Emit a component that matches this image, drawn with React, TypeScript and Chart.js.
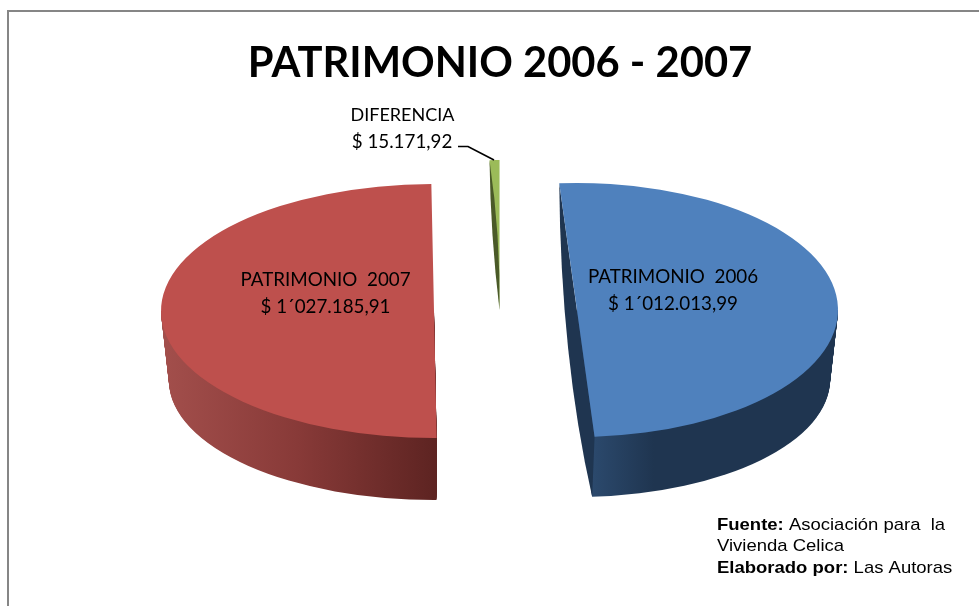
import React, { useEffect, useRef } from "react";
import { Chart, registerables } from "chart.js";

Chart.register(...registerables);

const categories = ["PATRIMONIO 2006", "PATRIMONIO 2007", "DIFERENCIA"];
const seriesValues = [1012013.99, 1027185.91, 15171.92];
const sliceColors = ["#4F81BD", "#BE504D", "#9BBB59"];
const chartTitle = "PATRIMONIO 2006 - 2007";
const sliceLabels = [
  ["PATRIMONIO  2006", "$ 1´012.013,99"],
  ["PATRIMONIO  2007", "$ 1´027.185,91"],
  ["DIFERENCIA", "$ 15.171,92"],
];
const noteLines = [
  [["Fuente: ", true], ["Asociación para  la", false]],
  [["Vivienda Celica", false]],
  [["Elaborado por: ", true], ["Las Autoras", false]],
] as [string, boolean][][];

const DEG = Math.PI / 180;
// Presentation of the fake 3D exploded pie (slice order: blue, red, green)
const rotationDeg = -3.9;
const startShift = [0, 6, 3.91];
const endShift = [2.7, 6, 3.91];
const topFace = [
  { cx: 577, cy: 310, rx: 261, ry: 127 },
  { cx: 434, cy: 311, rx: 273, ry: 127 },
  { cx: 499.5, cy: 310, rx: 216, ry: 150 },
];
const baseFace = [
  { cx: 575, cy: 380, rx: 255, ry: 117 },
  { cx: 434, cy: 381, rx: 265, ry: 119 },
  null,
];
const sideStops = [
  [[0, "#2f4f75"], [0.3, "#1f3550"], [1, "#1f3550"]],
  [[0, "#a34f4c"], [0.5, "#883a38"], [1, "#5e2422"]],
  [],
] as [number, string][][];
const cutColors = ["#1f3550", "#5e2422", "#4a5a28"];
const labelPos = [
  { x: 673, y: 277 },
  { x: 325.5, y: 280 },
];

const pie3dPlugin = {
  id: "pie3d",
  afterDatasetsUpdate(chart: any) {
    chart.getDatasetMeta(0).data.forEach((arc: any, i: number) => {
      arc.startAngle += startShift[i] * DEG;
      arc.endAngle += endShift[i] * DEG;
      arc.circumference = arc.endAngle - arc.startAngle;
    });
  },
  beforeDatasetsDraw(chart: any) {
    const ctx = chart.ctx;
    ctx.save();
    ctx.strokeStyle = "#868686";
    ctx.lineWidth = 2;
    ctx.strokeRect(8, 11, 1200, 1200);
    ctx.restore();

    const arcs = chart.getDatasetMeta(0).data;
    for (const i of [2, 1, 0]) {
      const arc = arcs[i];
      const top = topFace[i];
      const base = baseFace[i];
      const onRim = (f: any, a: number) => ({
        x: f.cx + f.rx * Math.cos(a),
        y: f.cy + f.ry * Math.sin(a),
      });

      if (base) {
        const g = ctx.createLinearGradient(
          i === 0 ? base.cx : top.cx - top.rx,
          0,
          i === 0 ? top.cx + top.rx : base.cx,
          0
        );
        sideStops[i].forEach(([p, c]) => g.addColorStop(p, c));
        ctx.save();
        ctx.fillStyle = g;
        const a0 = i === 0 ? 0 : arc.startAngle;
        const a1 = i === 0 ? arc.endAngle : Math.PI;
        const steps = 70;
        for (let s = steps; s >= 0; s--) {
          const t = s / steps;
          const cx = top.cx + (base.cx - top.cx) * t;
          const cy = top.cy + (base.cy - top.cy) * t;
          const rx = top.rx + (base.rx - top.rx) * t;
          const ry = top.ry + (base.ry - top.ry) * t;
          ctx.beginPath();
          ctx.moveTo(cx, cy);
          ctx.ellipse(cx, cy, rx, ry, 0, a0, a1);
          ctx.closePath();
          ctx.fill();
        }
        ctx.restore();
      }

      if (i === 0 && base) {
        const s = onRim(top, arc.startAngle);
        const e = onRim(top, arc.endAngle);
        const b = onRim(base, arc.endAngle);
        ctx.save();
        ctx.fillStyle = cutColors[0];
        ctx.beginPath();
        ctx.moveTo(s.x, s.y);
        ctx.quadraticCurveTo(s.x + 0.045 * (b.x - s.x), s.y + 0.56 * (b.y - s.y), b.x, b.y);
        ctx.lineTo(e.x, e.y);
        ctx.closePath();
        ctx.fill();
        ctx.restore();
      }

      ctx.save();
      const r = arc.outerRadius;
      ctx.translate(top.cx, top.cy);
      ctx.scale(top.rx / r, top.ry / r);
      ctx.translate(-arc.x, -arc.y);
      arc.draw(ctx, chart.chartArea);
      ctx.restore();

      if (i === 2) {
        const s = onRim(top, arc.startAngle);
        const mx = (s.x + top.cx) / 2;
        const my = (s.y + top.cy) / 2;
        ctx.save();
        ctx.fillStyle = cutColors[2];
        ctx.beginPath();
        ctx.moveTo(s.x, s.y);
        ctx.quadraticCurveTo(mx - 4, my, top.cx, top.cy);
        ctx.quadraticCurveTo(mx + 6, my, s.x, s.y);
        ctx.closePath();
        ctx.fill();
        ctx.restore();
      }
    }
    return false;
  },
  afterDraw(chart: any) {
    const ctx = chart.ctx;
    ctx.save();
    ctx.fillStyle = "#000";
    ctx.textBaseline = "middle";
    ctx.textAlign = "center";
    ctx.font = "18.8px Lato";
    labelPos.forEach((p, i) => {
      ctx.fillText(sliceLabels[i][0], p.x, p.y);
      ctx.fillText(sliceLabels[i][1], p.x, p.y + 27);
    });
    ctx.fillText(sliceLabels[2][1], 402, 142);
    ctx.font = "18px Lato";
    ctx.fillText(sliceLabels[2][0], 402.5, 115);

    ctx.strokeStyle = "#000";
    ctx.lineWidth = 1.7;
    ctx.beginPath();
    ctx.moveTo(458, 146.5);
    ctx.lineTo(468, 146.5);
    ctx.lineTo(494, 160);
    ctx.stroke();

    ctx.textAlign = "left";
    ctx.textBaseline = "alphabetic";
    const stretch = 1.128;
    noteLines.forEach((runs, li) => {
      let x = 0;
      runs.forEach(([text, bold]) => {
        ctx.font = `${bold ? "bold " : ""}16.4px "Liberation Sans"`;
        ctx.save();
        ctx.translate(717, 530 + li * 21.3);
        ctx.scale(stretch, 1);
        ctx.fillText(text, x, 0);
        ctx.restore();
        x += ctx.measureText(text).width;
      });
    });
    ctx.restore();
  },
};

export default function App() {
  const ref = useRef<HTMLCanvasElement>(null);
  useEffect(() => {
    document.body.style.margin = "0";
    const chart = new Chart(ref.current as HTMLCanvasElement, {
      type: "pie",
      data: {
        labels: categories,
        datasets: [
          {
            data: seriesValues,
            backgroundColor: sliceColors,
            borderWidth: 0,
          },
        ],
      },
      options: {
        responsive: false,
        animation: false,
        rotation: rotationDeg,
        layout: { padding: { left: 21, top: 39 } },
        plugins: {
          legend: { display: false },
          tooltip: { enabled: false },
          title: {
            display: true,
            text: chartTitle,
            fullSize: false,
            color: "#000",
            font: { family: "Lato", size: 41.7, weight: "bold" },
            padding: { top: 0, bottom: 0 },
          },
        },
      },
      plugins: [pie3dPlugin],
    } as any);
    return () => chart.destroy();
  }, []);
  return (
    <div style={{ position: "absolute", left: 0, top: 0, width: 979, height: 606, background: "#fff" }}>
      <canvas ref={ref} width={979} height={606} style={{ display: "block" }} />
    </div>
  );
}
